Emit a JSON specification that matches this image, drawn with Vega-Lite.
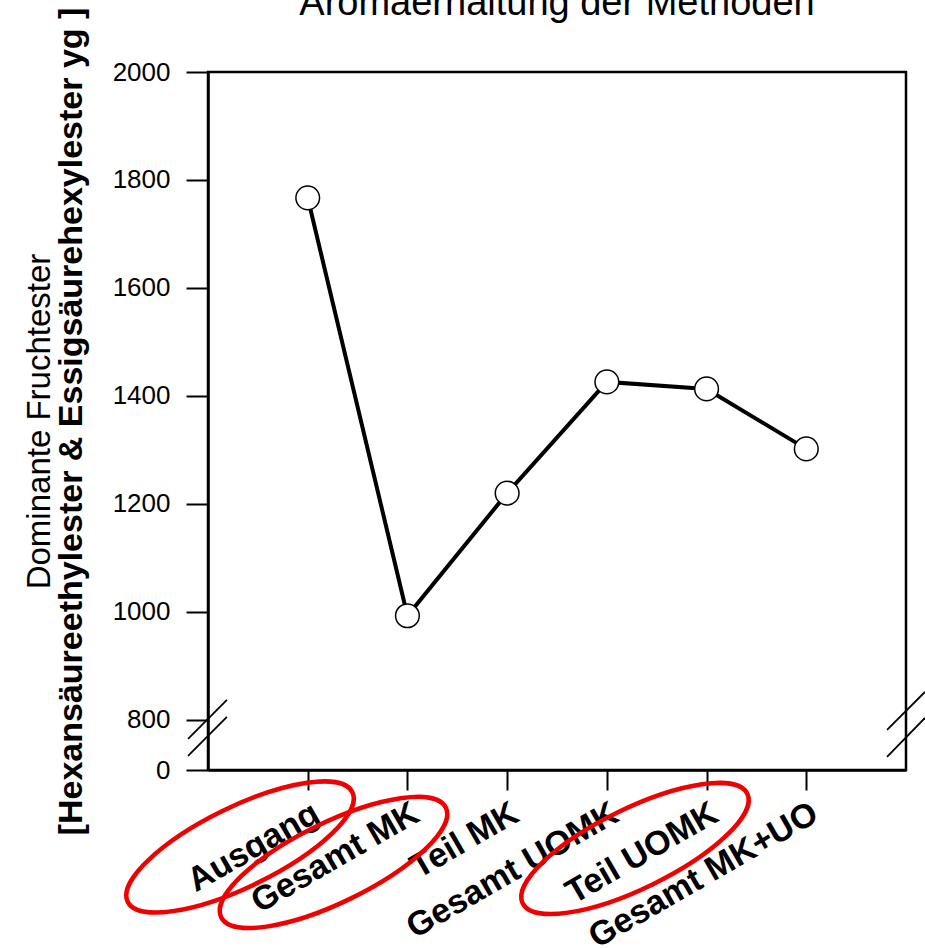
{
  "$schema": "https://vega.github.io/schema/vega-lite/v6.json",
  "width": 698,
  "height": 698,
  "autosize": {"type": "none"},
  "padding": {"left": 208, "top": 72, "right": 19, "bottom": 178},
  "background": "white",
  "config": {"view": {"stroke": "black", "strokeWidth": 2.5}, "font": "Liberation Sans"},
  "title": {"text": "Aromaerhaltung der Methoden", "fontSize": 38, "font": "Liberation Sans", "fontWeight": "normal", "color": "black", "frame": "group", "anchor": "middle", "offset": -16},
  "datasets": {
    "werte": [
      {"Methode": "Ausgang", "Wert": 1767},
      {"Methode": "Gesamt MK", "Wert": 993},
      {"Methode": "Teil MK", "Wert": 1220},
      {"Methode": "Gesamt UOMK", "Wert": 1426},
      {"Methode": "Teil UOMK", "Wert": 1413},
      {"Methode": "Gesamt MK+UO", "Wert": 1302}
    ],
    "bruch": [
      {"xa": -0.2, "xb": 0.19, "ya": 764.8, "yb": 837},
      {"xa": -0.2, "xb": 0.19, "ya": 733.3, "yb": 805.5},
      {"xa": 6.81, "xb": 7.19, "ya": 781.5, "yb": 851.9},
      {"xa": 6.81, "xb": 7.19, "ya": 731.5, "yb": 803.7}
    ],
    "markierung": [
      {"Beschriftung": "Ausgang", "mx": 0.321, "my": 564.8},
      {"Beschriftung": "Gesamt MK", "mx": 1.259, "my": 536.1},
      {"Beschriftung": "Teil UOMK", "mx": 4.282, "my": 562}
    ]
  },
  "resolve": {"scale": {"x": "independent", "y": "independent"}, "axis": {"x": "independent", "y": "independent"}},
  "layer": [
    {
      "data": {"name": "werte"},
      "mark": {"type": "line", "color": "black", "strokeWidth": 4},
      "encoding": {
        "x": {"field": "Methode", "type": "nominal", "sort": null, "scale": {"type": "point", "padding": 1},
          "axis": {"title": null, "orient": "bottom", "domainColor": "black", "domainWidth": 2.5, "tickColor": "black", "tickWidth": 2, "tickSize": 20, "labelAngle": -30, "labelFontSize": 34, "labelFontWeight": "bold", "labelFont": "Liberation Sans", "labelColor": "black", "labelPadding": 6, "labelLimit": 0, "labelOverlap": false, "labelBound": false}},
        "y": {"field": "Wert", "type": "quantitative", "scale": {"domain": [707.3, 2000], "nice": false, "zero": false},
          "axis": {"orient": "left", "values": [707.3, 800, 1000, 1200, 1400, 1600, 1800, 2000], "format": "d", "labelExpr": "datum.value < 750 ? '0' : datum.label", "grid": false, "domainColor": "black", "domainWidth": 2.5, "tickColor": "black", "tickWidth": 2, "tickSize": 22, "labelFontSize": 26, "labelFont": "Liberation Sans", "labelColor": "black", "labelPadding": 16, "labelOverlap": false, "labelBound": false, "title": "[Hexansäureethylester & Essigsäurehexylester yg ]", "titleFont": "Liberation Sans", "titleFontSize": 34, "titleFontWeight": "bold", "titleColor": "black", "titlePadding": 24, "titleLimit": 2000}}
      }
    },
    {
      "data": {"name": "werte"},
      "mark": {"type": "point", "filled": true, "fill": "white", "stroke": "black", "strokeWidth": 1.5, "size": 560, "opacity": 1},
      "encoding": {
        "x": {"field": "Methode", "type": "nominal", "sort": null, "scale": {"type": "point", "padding": 1}, "axis": null},
        "y": {"field": "Wert", "type": "quantitative", "scale": {"domain": [707.3, 2000], "nice": false, "zero": false},
          "axis": {"orient": "left", "labels": false, "ticks": false, "domain": false, "grid": false, "title": "Dominante Fruchtester", "titleFont": "Liberation Sans", "titleFontSize": 33, "titleFontWeight": "normal", "titleColor": "black", "titlePadding": 152, "titleLimit": 2000}}
      }
    },
    {
      "data": {"name": "bruch"},
      "mark": {"type": "rule", "color": "black", "strokeWidth": 1.8},
      "encoding": {
        "x": {"field": "xa", "type": "quantitative", "scale": {"domain": [0, 7], "nice": false, "zero": false}, "axis": null},
        "x2": {"field": "xb"},
        "y": {"field": "ya", "type": "quantitative", "scale": {"domain": [707.3, 2000], "nice": false, "zero": false}, "axis": null},
        "y2": {"field": "yb"}
      }
    },
    {
      "data": {"name": "markierung"},
      "mark": {"type": "point", "shape": "M -1 0 C -1 -0.177 -0.552 -0.32 0 -0.32 C 0.552 -0.32 1 -0.177 1 0 C 1 0.177 0.552 0.32 0 0.32 C -0.552 0.32 -1 0.177 -1 0 Z", "size": 62500, "angle": -26, "filled": false, "stroke": "#f00000", "strokeWidth": 4.5, "opacity": 1},
      "encoding": {
        "x": {"field": "mx", "type": "quantitative", "scale": {"domain": [0, 7], "nice": false, "zero": false}, "axis": null},
        "y": {"field": "my", "type": "quantitative", "scale": {"domain": [707.3, 2000], "nice": false, "zero": false}, "axis": null}
      }
    }
  ]
}
